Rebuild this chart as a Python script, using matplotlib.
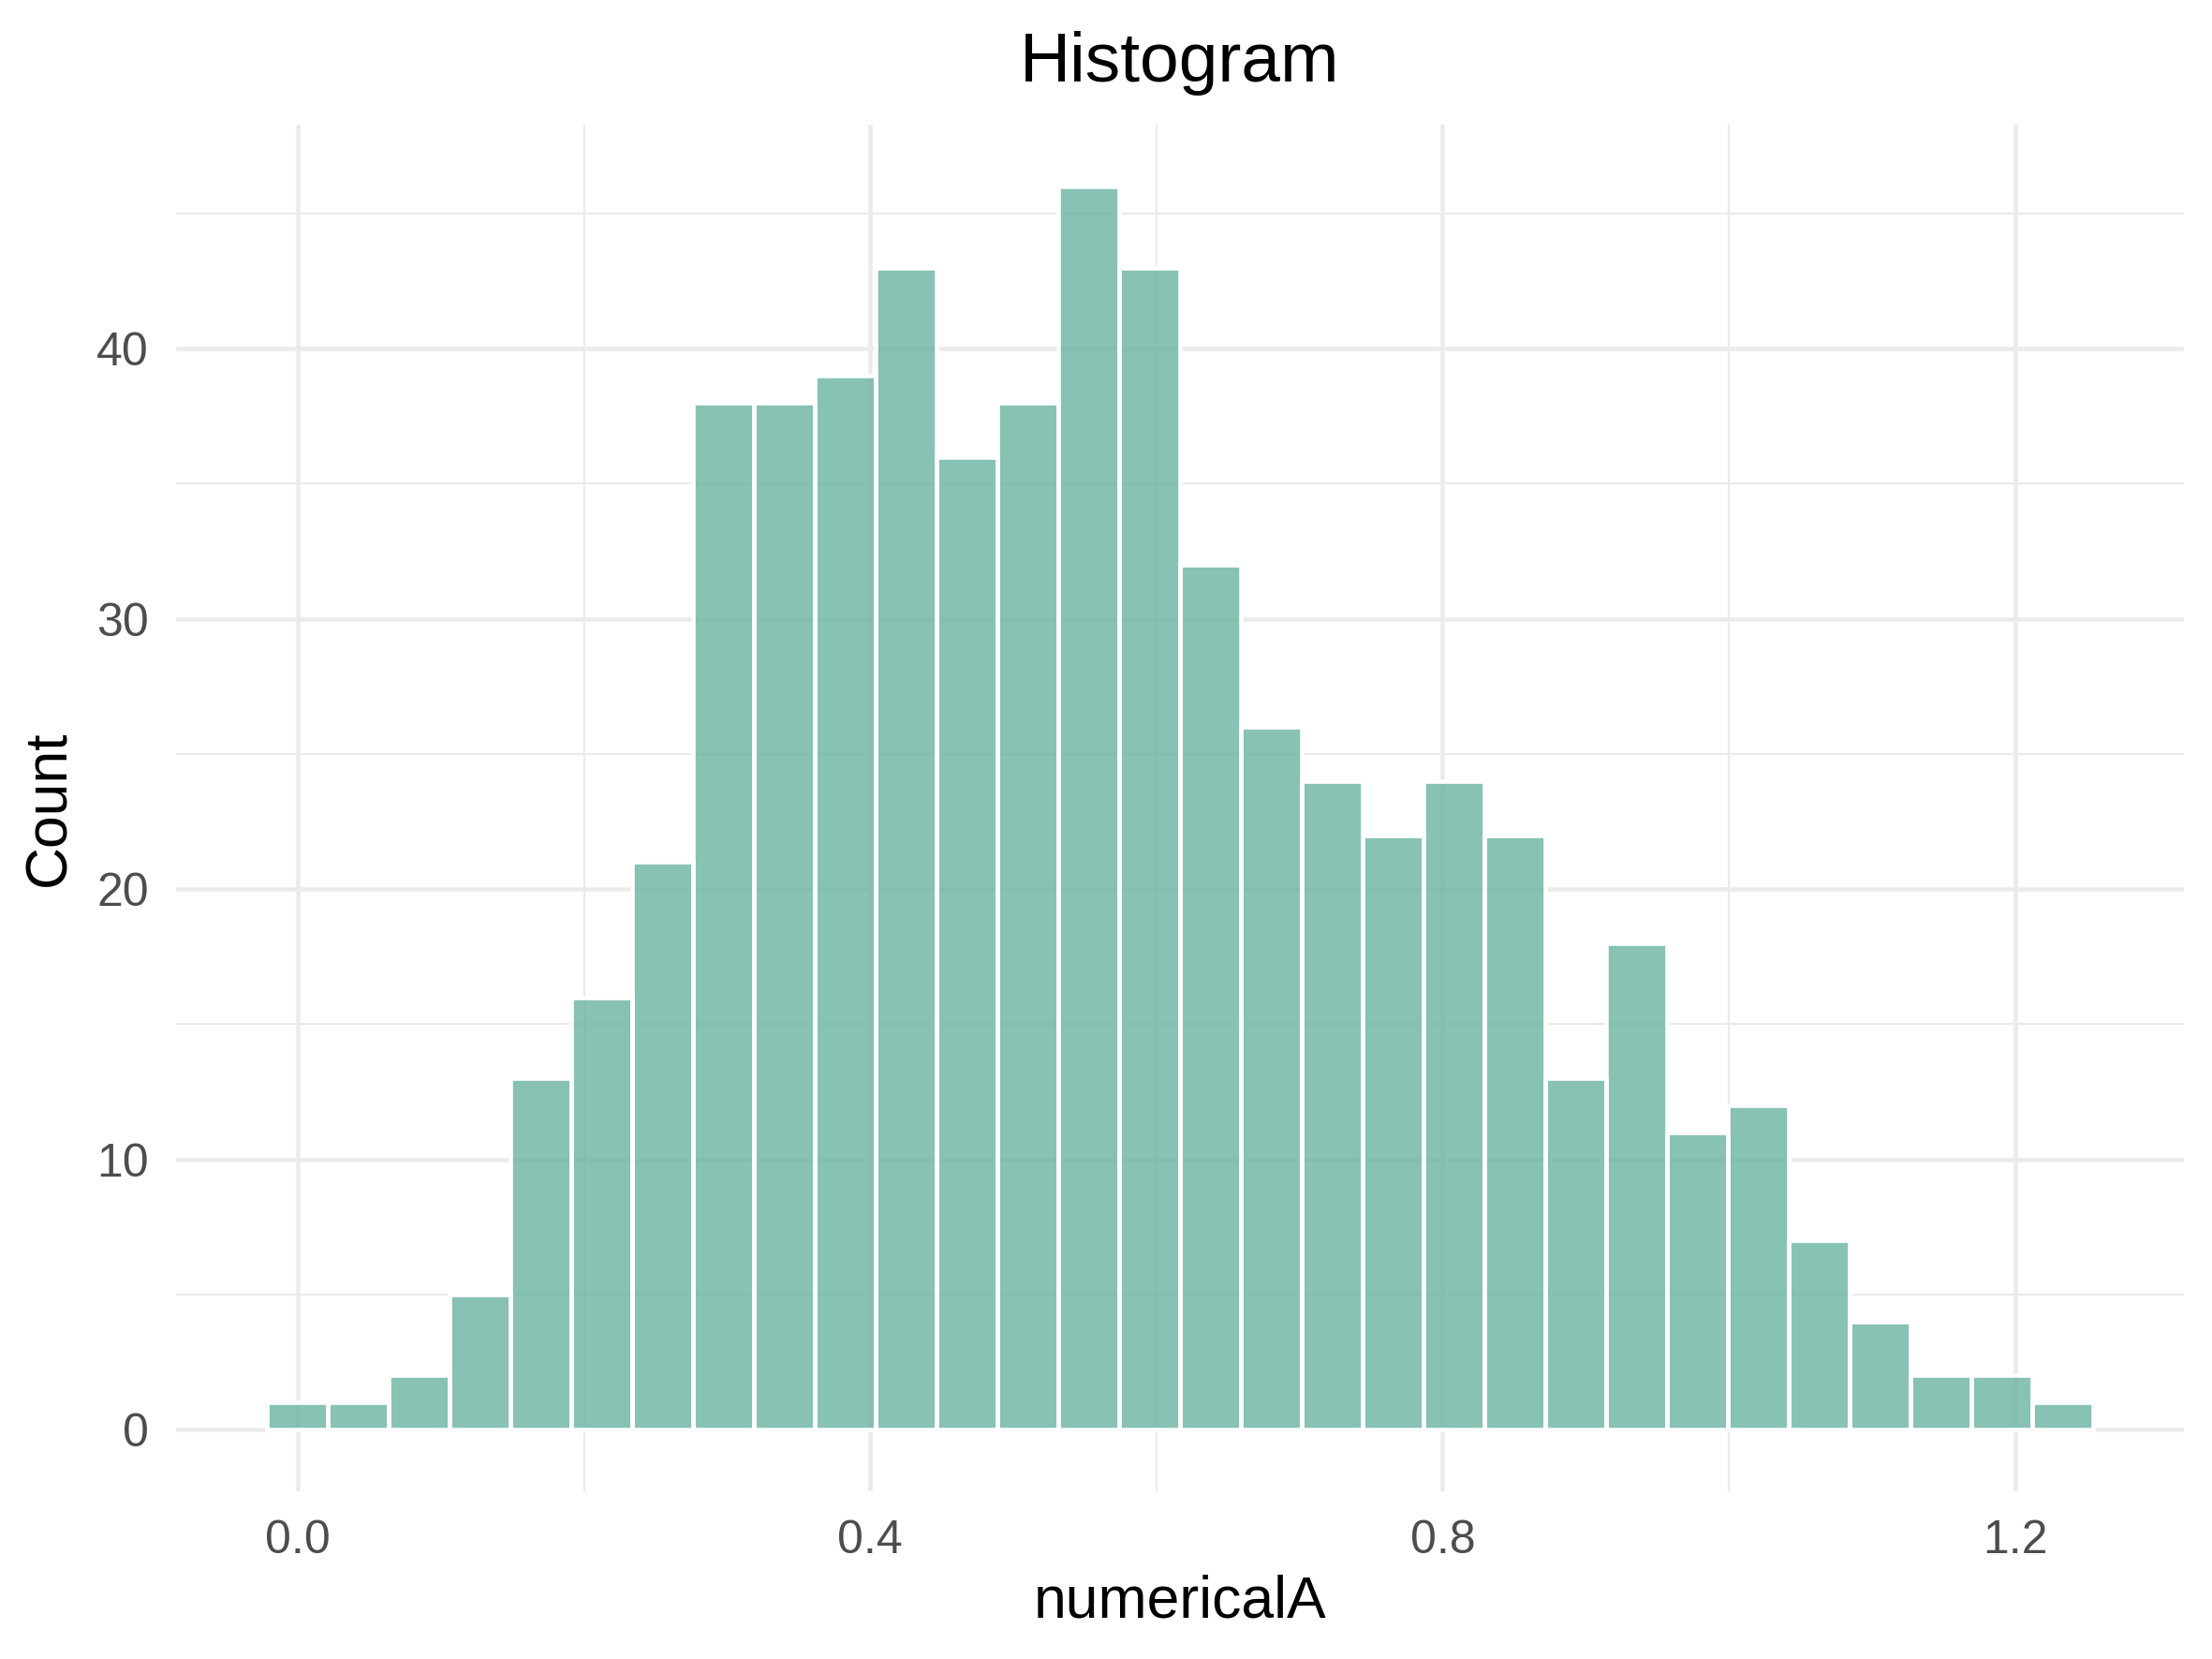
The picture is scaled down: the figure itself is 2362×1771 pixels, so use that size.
import numpy as np
import matplotlib
matplotlib.use('Agg')
import matplotlib.pyplot as plt

# histogram counts (30 bins)
counts = [1, 1, 2, 5, 13, 16, 21, 38, 38, 39, 43, 36, 38, 46, 43,
          32, 26, 24, 22, 24, 22, 13, 18, 11, 12, 7, 4, 2, 2, 1]
first_center = 0.0
bin_width = 0.04252

x_ticks = [0.0, 0.4, 0.8, 1.2]
x_tick_labels = ['0.0', '0.4', '0.8', '1.2']
y_ticks = [0, 10, 20, 30, 40]

plt.rcParams['font.family'] = ['Liberation Sans', 'DejaVu Sans']

fig = plt.figure(figsize=(2362 / 300, 1771 / 300), dpi=300)
ax = fig.add_axes([0.0796, 0.1008, 0.9077, 0.8242])

centers = first_center + bin_width * np.arange(len(counts))
lo = centers[0] - bin_width / 2
hi = centers[-1] + bin_width / 2
pad = (hi - lo) * 0.05
ax.set_xlim(lo - pad, hi + pad)
ax.set_ylim(-max(counts) * 0.05, max(counts) * 1.05)

# grid like theme_minimal
grid = '#EBEBEB'
for v in x_ticks:
	ax.axvline(v, color=grid, linewidth=1.1, zorder=0)
for v in [0.2, 0.6, 1.0]:
	ax.axvline(v, color=grid, linewidth=0.55, zorder=0)
for v in y_ticks:
	ax.axhline(v, color=grid, linewidth=1.1, zorder=0)
for v in [5, 15, 25, 35, 45]:
	ax.axhline(v, color=grid, linewidth=0.55, zorder=0)

ax.bar(centers, counts, width=bin_width, color='#69b3a2', alpha=0.8,
	edgecolor='none', zorder=2)
ax.bar(centers, counts, width=bin_width, facecolor='none',
	edgecolor='white', linewidth=1.1, zorder=3)

for s in ax.spines.values():
	s.set_visible(False)
ax.set_xticks(x_ticks)
ax.set_xticklabels(x_tick_labels)
ax.set_yticks(y_ticks)
ax.tick_params(length=0, labelsize=12, labelcolor='#4D4D4D', pad=7)

ax.set_xlabel('numericalA', fontsize=15, labelpad=3)
ax.set_ylabel('Count', fontsize=15, labelpad=5)
ax.set_title('Histogram', fontsize=18, pad=11)

fig.savefig('out.png', dpi=300)
plt.close(fig)
